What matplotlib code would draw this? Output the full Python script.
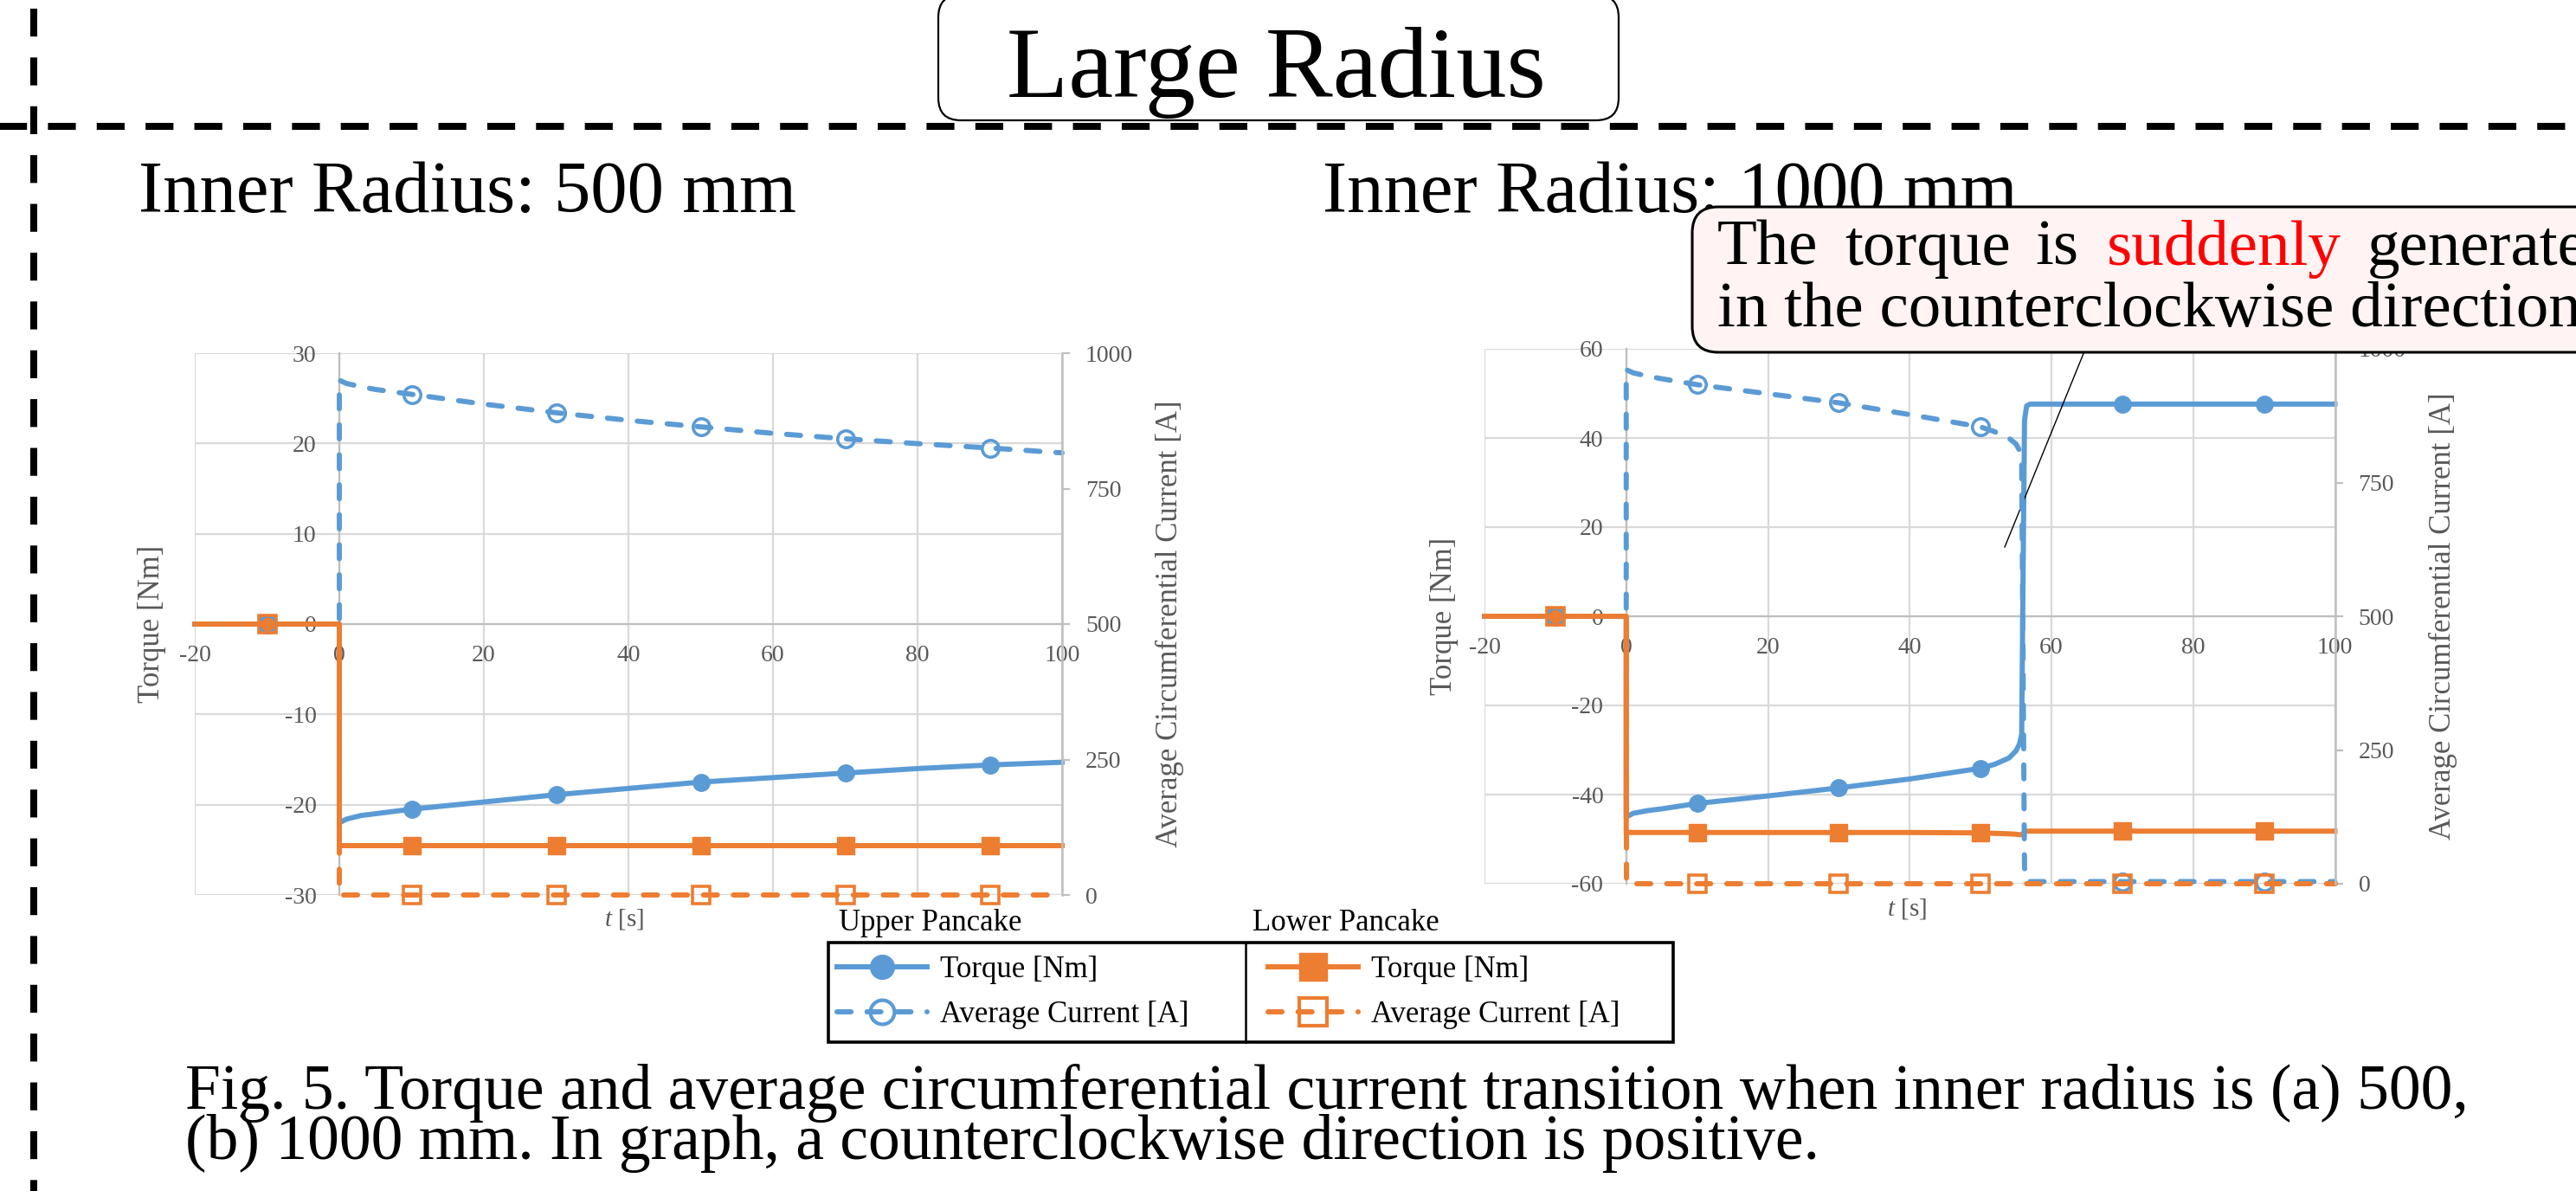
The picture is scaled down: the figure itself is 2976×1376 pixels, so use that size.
import matplotlib
matplotlib.use('Agg')
import matplotlib.pyplot as plt
import matplotlib.transforms as mtransforms
from matplotlib.patches import FancyBboxPatch
from matplotlib.lines import Line2D

plt.rcParams['font.family'] = ['Liberation Serif', 'DejaVu Serif']
plt.rcParams['mathtext.fontset'] = 'custom'
plt.rcParams['mathtext.rm'] = 'Liberation Serif'
plt.rcParams['mathtext.it'] = 'Liberation Serif:italic'
plt.rcParams['axes.unicode_minus'] = False

BLUE = '#5b9bd5'
ORANGE = '#ed7d31'
GRID = '#d9d9d9'
AXIS = '#bfbfbf'
TXT = '#595959'

W, H = 2976, 1376

# marker positions (s)
mark_t = [-10, 10, 30, 50, 70, 90]

# (a) inner radius 500 mm
t_a = [-20, -10, 0, 0, 1, 3, 5, 10, 20, 30, 40, 50, 60, 70, 80, 90, 100]
upper_torque_a = [0, 0, 0, -22.0, -21.6, -21.2, -21.0, -20.5, -19.7, -18.9,
                  -18.2, -17.5, -17.0, -16.5, -16.0, -15.6, -15.3]
upper_current_a = [500, 500, 500, 950, 944, 938, 933, 924, 906, 890,
                   876, 864, 852, 842, 833, 825, 816]
lower_torque_a = [0, 0, 0, -24.5, -24.5, -24.5, -24.5, -24.5, -24.5, -24.5,
                  -24.5, -24.5, -24.5, -24.5, -24.5, -24.5, -24.5]
lower_current_a = [500, 500, 500, 0, 0, 0, 0, 0, 0, 0, 0, 0, 0, 0, 0, 0, 0]

# (b) inner radius 1000 mm
t_b = [-20, -10, 0, 0, 1, 3, 5, 10, 20, 30, 40, 50, 52, 54, 55, 55.5, 55.8,
       56.0, 56.2, 56.5, 57, 60, 70, 80, 90, 100]
upper_torque_b = [0, 0, 0, -45.0, -44.2, -43.6, -43.2, -42.0, -40.3, -38.5,
                  -36.5, -34.1, -33.2, -31.8, -30.2, -28.6, -26.5,
                  10.0, 44.0, 47.2, 47.6, 47.6, 47.6, 47.6, 47.6, 47.6]
upper_current_b = [500, 500, 500, 961, 955, 949, 944, 933, 916, 899,
                   877, 854, 845, 833, 822, 810, 790,
                   400, 30, 5, 4, 4, 4, 4, 4, 4]
lower_torque_b = [0, 0, 0, -48.5, -48.5, -48.5, -48.5, -48.5, -48.5, -48.5,
                  -48.5, -48.6, -48.7, -48.8, -48.9, -49.0, -49.0,
                  -49.0, -48.2, -48.2, -48.2, -48.2, -48.2, -48.2, -48.2, -48.2]
lower_current_b = [500, 500, 500, 0, 0, 0, 0, 0, 0, 0, 0, 0, 0, 0, 0, 0, 0,
                   0, 0, 0, 0, 0, 0, 0, 0, 0]

fig = plt.figure(figsize=(W / 100, H / 100), dpi=100)
# pixel coordinates measured from the top-left corner
PX = mtransforms.Affine2D().scale(0.01, -0.01).translate(0, H / 100) + fig.dpi_scale_trans

LW = 4.3
DASH = (0, (2.7, 3.1))


def panel(rect, t, ut, uc, lt, lc, ylim, ystep, xlab_pos, ylab_x, y2lab_x):
    idx = [i for i, v in enumerate(t) if v in mark_t]
    ax = fig.add_axes(rect)
    ax2 = ax.twinx()

    ax.plot(t, ut, color=BLUE, lw=LW, marker='o', ms=14, markevery=idx,
            clip_on=False, zorder=2)
    ax.plot(t, lt, color=ORANGE, lw=LW, marker='s', ms=14.5, markevery=idx,
            clip_on=False, zorder=3)
    ax2.plot(t, uc, color=BLUE, lw=LW, ls=DASH, dash_capstyle='round',
             marker='o', ms=14, mfc='none', mew=2.6, markevery=idx, clip_on=False)
    ax2.plot(t, lc, color=ORANGE, lw=LW, ls=DASH, dash_capstyle='round',
             marker='s', ms=14.5, mfc='none', mew=2.6, markevery=idx, clip_on=False)

    ax.set_xlim(-20, 100)
    ax.set_ylim(-ylim, ylim)
    ax.set_xticks(range(-20, 101, 20))
    ax.set_yticks(range(-ylim, ylim + 1, ystep))
    ax.grid(True, color=GRID, lw=1.6)
    ax.set_axisbelow(True)
    ax.spines['left'].set_position(('data', 0))
    ax.spines['bottom'].set_position(('data', 0))
    ax.spines['top'].set_visible(False)
    ax.spines['right'].set_visible(False)
    for s in ('left', 'bottom'):
        ax.spines[s].set_color(AXIS)
        ax.spines[s].set_linewidth(1.6)
    ax.tick_params(length=0, labelcolor=TXT, labelsize=20)
    ax.tick_params(axis='x', pad=17)
    ax.tick_params(axis='y', pad=19)

    ax2.set_ylim(0, 1000)
    ax2.set_yticks(range(0, 1001, 250))
    for s in ('left', 'top', 'bottom'):
        ax2.spines[s].set_visible(False)
    ax2.spines['right'].set_color(AXIS)
    ax2.spines['right'].set_linewidth(1.8)
    ax2.tick_params(axis='y', direction='out', length=6.5, width=1.6, color=AXIS,
                    labelcolor=TXT, labelsize=20, pad=13)

    ax.set_ylabel('Torque [Nm]', color=TXT, fontsize=25)
    ax.yaxis.set_label_coords(ylab_x, 0.5)
    ax.yaxis.label.set_va('center')
    ax.set_xlabel('$t$ [s]', color=TXT, fontsize=21)
    ax.xaxis.set_label_coords(*xlab_pos)
    ax.xaxis.label.set_va('center')
    ax2.set_ylabel('Average Circumferential Current [A]', color=TXT, fontsize=25)
    ax2.yaxis.set_label_coords(y2lab_x, 0.5)
    ax2.yaxis.label.set_va('center')
    return ax, ax2


ax_a, _ = panel([225 / W, 1 - 1034 / H, 1002 / W, 626 / H],
                t_a, upper_torque_a, upper_current_a, lower_torque_a, lower_current_a,
                30, 10, (0.4945, -0.045), -0.049, 1.1246)
ax_b, _ = panel([1715 / W, 1 - 1021 / H, 982.5 / W, 618 / H],
                t_b, upper_torque_b, upper_current_b, lower_torque_b, lower_current_b,
                60, 20, (0.497, -0.047), -0.047, 1.127)

# frame lines of the slide
fig.add_artist(Line2D([39, 39], [10, H + 60], transform=PX, color='black',
                      lw=5.8, ls=(0, (4, 3)), solid_capstyle='butt'))
fig.add_artist(Line2D([-6, W + 60], [146, 146], transform=PX, color='black',
                      lw=5.8, ls=(0, (4, 3))))

# heading box
fig.add_artist(FancyBboxPatch((1084, -6), 786, 145, transform=PX,
                              boxstyle='round,pad=0,rounding_size=26',
                              fc='white', ec='black', lw=1.6, zorder=4))
fig.text(1474, 112, 'Large Radius', transform=PX, fontsize=84,
         ha='center', va='baseline', zorder=6)

fig.text(160, 245, 'Inner Radius: 500 mm', transform=PX, fontsize=61, va='baseline')
fig.text(1528, 245, 'Inner Radius: 1000 mm', transform=PX, fontsize=61,
         va='baseline', zorder=3)

# callout on panel (b)
fig.add_artist(FancyBboxPatch((1955, 239), 1200, 168, transform=PX,
                              boxstyle='round,pad=0,rounding_size=30',
                              fc='#fff3f3', ec='black', lw=2.2, zorder=5))
words = [('The', 1984, 'black'), ('torque', 2131, 'black'), ('is', 2351, 'black'),
         ('suddenly', 2434, 'red'), ('generated', 2735, 'black')]
for w, x, c in words:
    fig.text(x, 306, w, transform=PX, fontsize=54, color=c, va='baseline', zorder=6)
fig.text(1984, 377, 'in the counterclockwise direction.', transform=PX,
         fontsize=54, va='baseline', zorder=6)
ax_b.annotate('', xy=(53.4, 15.5), xycoords='data', xytext=(2408, 406),
              textcoords=PX, annotation_clip=False,
              arrowprops=dict(arrowstyle='-', color='black', lw=1.0,
                              shrinkA=0, shrinkB=0))

# shared legend
hu = [Line2D([], [], color=BLUE, lw=LW, marker='o', ms=20),
      Line2D([], [], color=BLUE, lw=LW, ls=DASH, dash_capstyle='round',
             marker='o', ms=20, mfc='none', mew=3)]
hl = [Line2D([], [], color=ORANGE, lw=LW, marker='s', ms=23),
      Line2D([], [], color=ORANGE, lw=LW, ls=DASH, dash_capstyle='round',
             marker='s', ms=23, mfc='none', mew=3)]
labels = ['Torque [Nm]', 'Average Current [A]']
for handles, x in ((hu, 967), (hl, 1465)):
    fig.legend(handles, labels, loc='upper left',
               bbox_to_anchor=(x / W, 1 - 1104 / H), frameon=False, fontsize=25,
               handlelength=3.0, handletextpad=0.43, borderpad=0, borderaxespad=0,
               labelspacing=0.55)
fig.add_artist(FancyBboxPatch((956.5, 1089), 976.5, 115, transform=PX,
                              boxstyle='square,pad=0', fc='none', ec='black', lw=2.6))
fig.add_artist(Line2D([1438.5, 1438.5], [1089, 1204], transform=PX,
                      color='black', lw=1.8))
fig.text(969, 1075, 'Upper Pancake', transform=PX, fontsize=25, va='baseline')
fig.text(1447, 1075, 'Lower Pancake', transform=PX, fontsize=25, va='baseline')

fig.text(214, 1281, 'Fig. 5. Torque and average circumferential current transition '
         'when inner radius is (a) 500,', transform=PX, fontsize=53, va='baseline')
fig.text(214, 1339, '(b) 1000 mm. In graph, a counterclockwise direction is positive.',
         transform=PX, fontsize=53, va='baseline')

fig.savefig('out.png', dpi=100)
